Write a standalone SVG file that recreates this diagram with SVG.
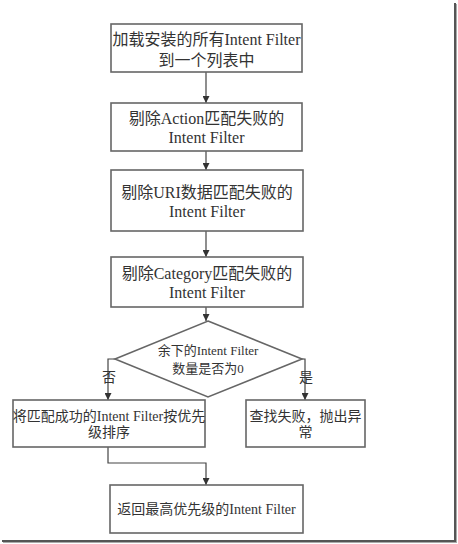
<svg xmlns="http://www.w3.org/2000/svg" width="458" height="544" viewBox="0 0 458 544">
<defs>
<marker id="ah" viewBox="0 0 8 8" refX="8" refY="4" markerWidth="7" markerHeight="7" markerUnits="userSpaceOnUse" orient="auto">
<path d="M0,0 L8,4 L0,8 Z" fill="#333"/>
</marker>
<style>
.box{fill:#fff;stroke:#666;stroke-width:1.6}
.t{font-family:"Liberation Serif","Noto Sans CJK SC",serif;font-size:14px;fill:#333;text-anchor:middle}
.b{font-size:16px}
.s{font-size:13px}
.c{fill:none;stroke:#444;stroke-width:1.2;marker-end:url(#ah)}
</style>
</defs>
<rect width="458" height="544" fill="#fff"/>
<g id="frame">
<line x1="455" y1="3" x2="455" y2="541" stroke="#555" stroke-width="2"/>
<line x1="456.5" y1="4" x2="456.5" y2="542" stroke="#aaa" stroke-width="1"/>
<line x1="2" y1="541" x2="456" y2="541" stroke="#555" stroke-width="2"/>
<line x1="3" y1="542.5" x2="457" y2="542.5" stroke="#aaa" stroke-width="1"/>
</g>
<g id="connectors">
<line class="c" x1="206" y1="72" x2="206" y2="103"/>
<line class="c" x1="206" y1="151" x2="206" y2="170"/>
<line class="c" x1="206" y1="231" x2="206" y2="257"/>
<line class="c" x1="206" y1="307" x2="206" y2="321"/>
<polyline class="c" points="115,359 108,359 108,400"/>
<polyline class="c" points="302,359 305,359 305,400"/>
<polyline class="c" points="108,447 108,463 206,463 206,485"/>
<text class="t" x="109" y="382">否</text>
<text class="t" x="306" y="382">是</text>
</g>
<g id="n1">
<rect class="box" x="111" y="24" width="191" height="48"/>
<text class="t b" x="206.5" y="45">加载安装的所有Intent Filter</text>
<text class="t b" x="206.5" y="66">到一个列表中</text>
</g>
<g id="n2">
<rect class="box" x="111" y="103" width="191" height="48"/>
<text class="t b" x="206.5" y="124">剔除Action匹配失败的</text>
<text class="t b" x="206.5" y="143">Intent Filter</text>
</g>
<g id="n3">
<rect class="box" x="111" y="170" width="192" height="61"/>
<text class="t b" x="207" y="198">剔除URI数据匹配失败的</text>
<text class="t b" x="207" y="217">Intent Filter</text>
</g>
<g id="n4">
<rect class="box" x="111" y="257" width="192" height="50"/>
<text class="t b" x="207" y="279">剔除Category匹配失败的</text>
<text class="t b" x="207" y="298">Intent Filter</text>
</g>
<g id="n5">
<polygon class="box" points="208,321 302,359 208,397 115,359"/>
<text class="t s" x="208" y="355">余下的Intent Filter</text>
<text class="t s" x="208" y="373">数量是否为0</text>
</g>
<g id="n6">
<rect class="box" x="13" y="400" width="192" height="47"/>
<text class="t" x="109" y="421">将匹配成功的Intent Filter按优先</text>
<text class="t" x="109" y="437">级排序</text>
</g>
<g id="n7">
<rect class="box" x="246" y="400" width="119" height="47"/>
<text class="t" x="305.5" y="421">查找失败，抛出异</text>
<text class="t" x="305.5" y="437">常</text>
</g>
<g id="n8">
<rect class="box" x="110" y="485" width="193" height="48"/>
<text class="t" x="206.5" y="514">返回最高优先级的Intent Filter</text>
</g>
</svg>
